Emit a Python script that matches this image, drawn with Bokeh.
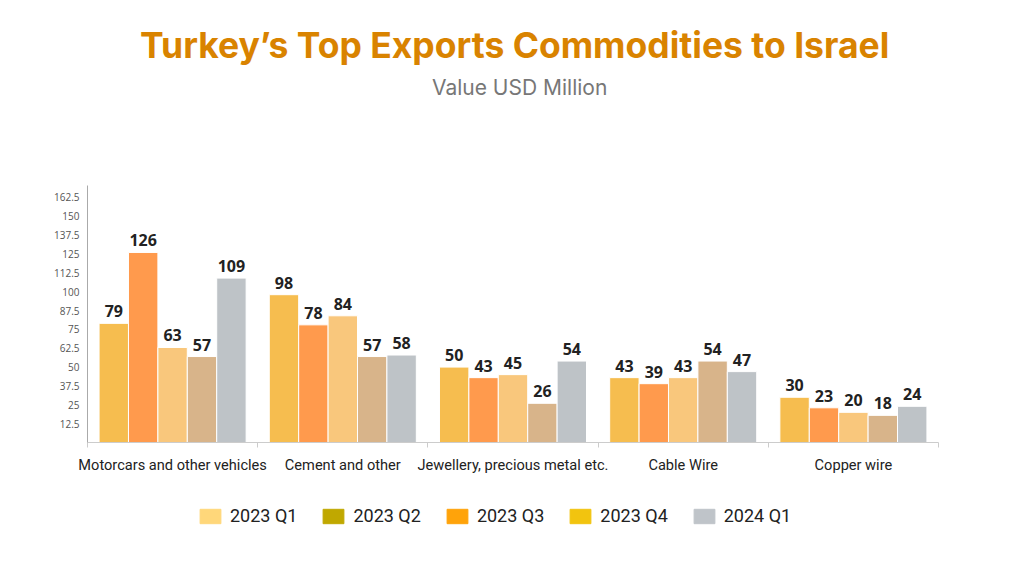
from bokeh.plotting import figure
from bokeh.models import (ColumnDataSource, FixedTicker, Legend, LegendItem, Range1d)
from bokeh.layouts import column
from bokeh.core.properties import value
from bokeh.embed import file_html
from bokeh.resources import INLINE

categories = ["Motorcars and other vehicles", "Cement and other",
              "Jewellery, precious metal etc.", "Cable Wire", "Copper wire"]
series_names = ["2023 Q1", "2023 Q2", "2023 Q3", "2023 Q4", "2024 Q1"]
q1_2023 = [79, 98, 50, 43, 30]
q2_2023 = [126, 78, 43, 39, 23]
q3_2023 = [63, 84, 45, 43, 20]
q4_2023 = [57, 57, 26, 54, 18]
q1_2024 = [109, 58, 54, 47, 24]
y_ticks = [12.5, 25, 37.5, 50, 62.5, 75, 87.5, 100, 112.5, 125, 137.5, 150, 162.5]
title_text = "Turkey\u2019s Top Exports Commodities to Israel"
subtitle_text = "Value USD Million"

bar_colors = ["#F6BD4F", "#FF9A4D", "#F9C77C", "#D8B48A", "#BEC3C7"]
legend_colors = ["#FFD77A", "#C0A800", "#FFA30A", "#F2C40F", "#BFC4C9"]

series = [q1_2023, q2_2023, q3_2023, q4_2023, q1_2024]


def blank(h):
    f = figure(width=1024, height=h, output_backend="svg", toolbar_location=None,
               x_range=Range1d(0, 1024), y_range=Range1d(0, h),
               x_axis_type=None, y_axis_type=None, title_location=None,
               min_border_left=0, min_border_right=0, min_border_top=0,
               min_border_bottom=0)
    f.outline_line_color = None
    f.grid.grid_line_color = None
    f.background_fill_color = "white"
    f.border_fill_color = "white"
    return f


# ---- title block ----
top = blank(120)
top.text(x=[514], y=[120 - 45], text=[title_text], text_font=value("Inter"),
         text_font_style="bold", text_font_size="35.5px", text_color="#D98300",
         text_align="center", text_baseline="alphabetic")
top.text(x=[520], y=[120 - 87], text=[subtitle_text], text_font=value("Inter"),
         text_font_size="21px", text_color="#777777",
         text_align="center", text_baseline="alphabetic")

# ---- main chart ----
p = figure(width=1024, height=370, output_backend="svg", toolbar_location=None,
           x_range=Range1d(0, 5), y_range=Range1d(0, 170.4), title_location=None,
           min_border_left=87, min_border_right=86, min_border_top=65,
           min_border_bottom=48)
p.outline_line_color = None
p.grid.grid_line_color = None
p.background_fill_color = "white"
p.border_fill_color = "white"

step = 0.1728
for j, vals in enumerate(series):
    xs = [i + 0.5 + (j - 2) * step for i in range(len(categories))]
    src = ColumnDataSource(dict(x=xs, top=vals, lab=[str(v) for v in vals]))
    p.vbar(x="x", top="top", bottom=0, width=step, source=src,
           fill_color=bar_colors[j], line_color="white", line_width=1)
    p.text(x="x", y="top", text="lab", source=src, text_align="center",
           text_baseline="alphabetic", y_offset=-12, text_font=value("Open Sans"),
           text_font_style="bold", text_font_size="16px", text_color="#222222")

xa = p.xaxis[0]
xa.ticker = FixedTicker(ticks=[i + 0.5 for i in range(len(categories))],
                        minor_ticks=list(range(len(categories) + 1)))
xa.major_label_overrides = {i + 0.5: c for i, c in enumerate(categories)}
xa.major_tick_out = 0
xa.major_tick_in = 0
xa.minor_tick_out = 5
xa.minor_tick_in = 0
xa.minor_tick_line_color = "#cccccc"
xa.axis_line_color = "#cccccc"
xa.major_label_text_font = "Roboto"
xa.major_label_text_font_size = "14.6px"
xa.major_label_text_color = "#222222"
xa.major_label_standoff = 8

ya = p.yaxis[0]
ya.ticker = FixedTicker(ticks=y_ticks)
ya.major_label_overrides = {t: (str(int(t)) if t == int(t) else str(t)) for t in y_ticks}
ya.major_tick_out = 0
ya.major_tick_in = 0
ya.minor_tick_out = 0
ya.minor_tick_in = 0
ya.axis_line_color = "#aaaaaa"
ya.major_label_text_font = "Open Sans"
ya.major_label_text_font_size = "10px"
ya.major_label_text_color = "#555555"
ya.major_label_standoff = 8

# ---- legend block ----
leg = blank(86)
items = []
for j, name in enumerate(series_names):
    r = leg.rect(x=[-500], y=[-500], width=1, height=1,
                 fill_color=legend_colors[j], line_color=legend_colors[j])
    items.append(LegendItem(label=name, renderers=[r]))
legend = Legend(items=items, orientation="horizontal", location=(110, 50),
                glyph_width=26, glyph_height=18, label_text_font="Roboto",
                label_text_font_size="18px", label_text_color="#222222",
                spacing=23, label_standoff=7, padding=0, margin=0,
                border_line_color=None, background_fill_alpha=0)
leg.add_layout(legend, "center")

layout = column(top, p, leg, spacing=0)
open("out.html", "w").write(file_html(layout, INLINE))
